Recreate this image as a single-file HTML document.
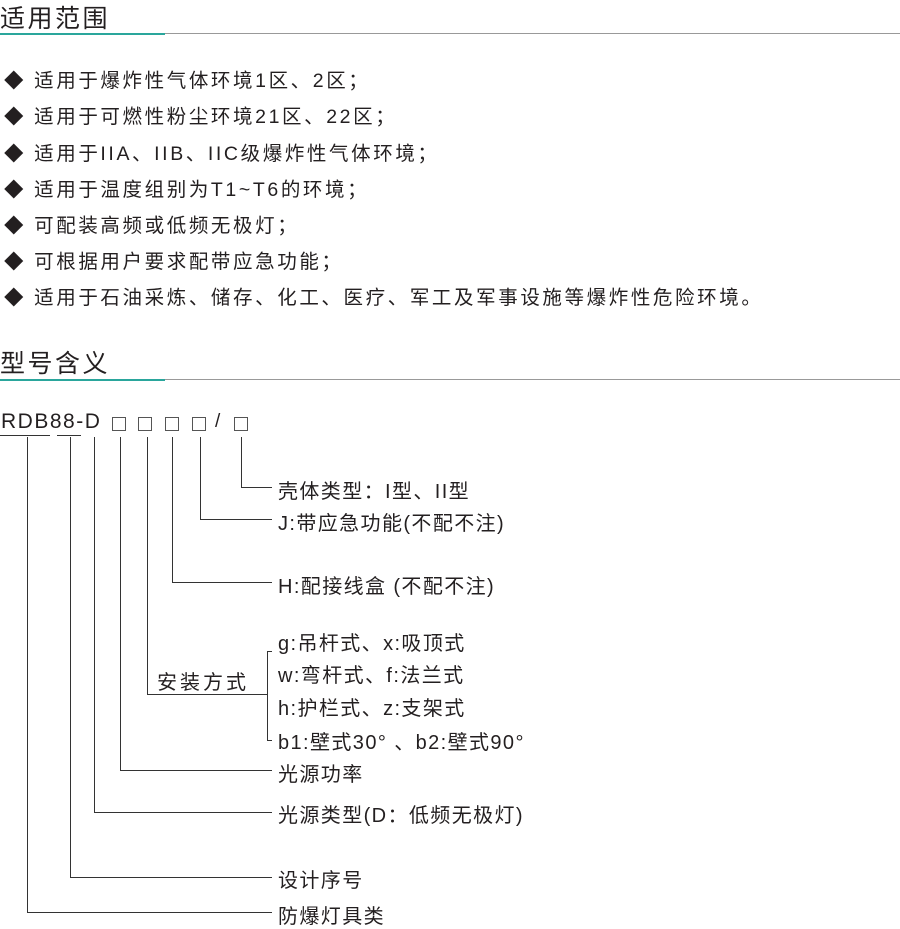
<!DOCTYPE html><html><head><meta charset="utf-8"><style>
body{margin:0;width:900px;height:923px;background:#fff;position:relative;overflow:hidden;font-family:"Liberation Sans","Noto Sans CJK SC",sans-serif;color:#231f20}
.t{position:absolute;white-space:nowrap}
.h{font-size:25px;left:0px;letter-spacing:2.5px}
.b{font-size:19.5px;left:4px;letter-spacing:2.6px}
.l{position:absolute;background:#333}
.s{font-size:20px;letter-spacing:1.4px}
.bx{position:absolute;top:417px;width:12px;height:12px;border:1px solid #555}
</style></head><body>
<div class="t h" style="top:-1px">适用范围</div>
<div class="l" style="left:0;top:33px;width:165px;height:2px;background:#2aa69c"></div>
<div class="l" style="left:165px;top:33px;width:735px;height:1px;background:#999"></div>
<div class="t b" style="top:64px">◆ 适用于爆炸性气体环境1区、2区；</div>
<div class="t b" style="top:100px">◆ 适用于可燃性粉尘环境21区、22区；</div>
<div class="t b" style="top:137px">◆ 适用于IIA、IIB、IIC级爆炸性气体环境；</div>
<div class="t b" style="top:173px">◆ 适用于温度组别为T1~T6的环境；</div>
<div class="t b" style="top:209px">◆ 可配装高频或低频无极灯；</div>
<div class="t b" style="top:245px">◆ 可根据用户要求配带应急功能；</div>
<div class="t b" style="top:281px">◆ 适用于石油采炼、储存、化工、医疗、军工及军事设施等爆炸性危险环境。</div>
<div class="t h" style="top:344px">型号含义</div>
<div class="l" style="left:0;top:379px;width:165px;height:2px;background:#2aa69c"></div>
<div class="l" style="left:165px;top:379px;width:735px;height:1px;background:#999"></div>
<div class="t" style="left:1px;top:410px;font-size:21px;letter-spacing:1.5px">RDB88-D</div>
<div class="bx" style="left:112px"></div><div class="bx" style="left:138px"></div><div class="bx" style="left:165px"></div><div class="bx" style="left:192px"></div>
<div class="t" style="left:215px;top:411px;font-size:19px">/</div>
<div class="bx" style="left:234px"></div>
<div class="l" style="left:0;top:435px;width:50px;height:1px"></div>
<div class="l" style="left:57px;top:435px;width:24px;height:1px"></div>
<div class="l" style="left:27px;top:437px;width:1px;height:476px"></div><div class="l" style="left:27px;top:912px;width:245px;height:1px"></div>
<div class="l" style="left:70px;top:437px;width:1px;height:441px"></div><div class="l" style="left:70px;top:877px;width:202px;height:1px"></div>
<div class="l" style="left:94px;top:437px;width:1px;height:376px"></div><div class="l" style="left:94px;top:812px;width:178px;height:1px"></div>
<div class="l" style="left:120px;top:437px;width:1px;height:334px"></div><div class="l" style="left:120px;top:770px;width:152px;height:1px"></div>
<div class="l" style="left:147px;top:437px;width:1px;height:258px"></div><div class="l" style="left:147px;top:694px;width:120px;height:1px"></div>
<div class="l" style="left:267px;top:651px;width:1px;height:90px"></div>
<div class="l" style="left:267px;top:651px;width:5px;height:1px"></div><div class="l" style="left:267px;top:740px;width:5px;height:1px"></div>
<div class="l" style="left:172px;top:437px;width:1px;height:146px"></div><div class="l" style="left:172px;top:582px;width:100px;height:1px"></div>
<div class="l" style="left:200px;top:437px;width:1px;height:83px"></div><div class="l" style="left:200px;top:519px;width:72px;height:1px"></div>
<div class="l" style="left:241px;top:437px;width:1px;height:51px"></div><div class="l" style="left:241px;top:487px;width:31px;height:1px"></div>
<div class="t s" style="left:278px;top:475px">壳体类型：I型、II型</div>
<div class="t s" style="left:278px;top:507px">J:带应急功能(不配不注)</div>
<div class="t s" style="left:278px;top:570px">H:配接线盒 (不配不注)</div>
<div class="t s" style="left:157px;top:666px;letter-spacing:3px">安装方式</div>
<div class="t s" style="left:278px;top:627px">g:吊杆式、x:吸顶式</div>
<div class="t s" style="left:278px;top:659px">w:弯杆式、f:法兰式</div>
<div class="t s" style="left:278px;top:692px">h:护栏式、z:支架式</div>
<div class="t s" style="left:278px;top:726px">b1:壁式30°&nbsp;、b2:壁式90°</div>
<div class="t s" style="left:278px;top:758px">光源功率</div>
<div class="t s" style="left:278px;top:799px">光源类型(D：低频无极灯)</div>
<div class="t s" style="left:278px;top:864px">设计序号</div>
<div class="t s" style="left:278px;top:900px">防爆灯具类</div>
</body></html>
